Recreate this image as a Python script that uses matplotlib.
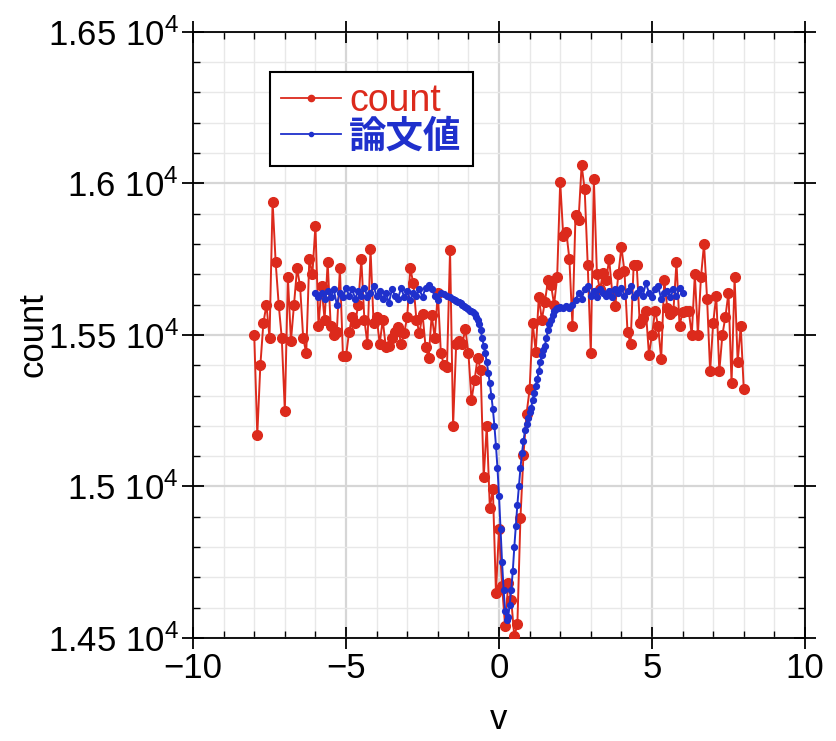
import numpy as np
import matplotlib
matplotlib.use("Agg")
import matplotlib.pyplot as plt
from matplotlib.ticker import MultipleLocator, FuncFormatter
from matplotlib.lines import Line2D

plt.rcParams["font.family"] = ["Liberation Sans", "Noto Sans CJK JP", "DejaVu Sans"]
plt.rcParams["mathtext.fontset"] = "custom"
plt.rcParams["mathtext.rm"] = "Liberation Sans"
plt.rcParams["mathtext.it"] = "Liberation Sans"

RED = "#dc2a1c"
BLUE = "#1f30cc"

# measured counts, v = -8.0 ... 8.0 step 0.1
count_v = np.arange(-80, 81) / 10
count_vals = [
    15500, 15170, 15400, 15540, 15600, 15490, 15940, 15740, 15600, 15490,
    15250, 15690, 15480, 15600, 15720, 15660, 15490, 15440, 15750, 15700,
    15860, 15530, 15660, 15550, 15740, 15530, 15500, 15510, 15720, 15430,
    15430, 15510, 15560, 15540, 15600, 15750, 15550, 15470, 15785, 15540,
    15560, 15470, 15550, 15460, 15465, 15490, 15510, 15525, 15470, 15505,
    15560, 15720, 15670, 15550, 15505, 15570, 15460, 15425, 15565, 15490,
    15640, 15440, 15400, 15395, 15780, 15200, 15470, 15480, 15470, 15520,
    15440, 15285, 15350, 15425, 15385, 15030, 15200, 14930, 14990, 14650,
    14860, 14670, 14540, 14680, 14625, 14505, 14545, 14895, 15105, 15240,
    15320, 15540, 15445, 15625, 15550, 15610, 15680, 15665, 15600, 15690,
    16005, 15825, 15840, 15750, 15530, 15895, 15880, 16060, 15980, 15730,
    15440, 16015, 15700, 15650, 15705, 15680, 15750, 15640, 15595, 15700,
    15790, 15710, 15510, 15470, 15730, 15730, 15540, 15555, 15580, 15435,
    15500, 15580, 15530, 15420, 15680, 15590, 15570, 15580, 15740, 15530,
    15575, 15580, 15580, 15500, 15700, 15500, 15690, 15800, 15620, 15380,
    15540, 15630, 15380, 15500, 15560, 15640, 15340, 15690, 15410, 15530,
    15320,
]

# paper values (論文値): coarse outside the dip, fine inside
paper_v = np.concatenate([np.arange(-60, -15) / 10,
                          np.arange(-30, 41) / 20,
                          np.arange(21, 61) / 10])
paper_vals = [
    # -6.0 ... -1.6
    15640, 15625, 15640, 15620, 15645, 15625, 15650, 15600, 15640, 15625,
    15655, 15630, 15650, 15620, 15645, 15630, 15655, 15625, 15640, 15660,
    15630, 15645, 15620, 15640, 15605, 15650, 15630, 15620, 15655, 15625,
    15645, 15615, 15640, 15630, 15650, 15625, 15655, 15665, 15650, 15630,
    15615, 15640, 15635, 15630, 15625,
    # -1.5 ... 2.0 (step 0.05)
    15620, 15615, 15612, 15610, 15608, 15605, 15600, 15595, 15592, 15588,
    15585, 15580, 15578, 15575, 15570, 15560, 15548, 15535, 15515, 15490,
    15465, 15440, 15410, 15375, 15340, 15300, 15255, 15200, 15135, 15060,
    14970, 14860, 14750, 14660, 14590, 14560, 14570, 14610, 14660, 14720,
    14800, 14870, 14940, 15000, 15060, 15110, 15150, 15185, 15205, 15225,
    15245, 15260, 15285, 15310, 15330, 15355, 15380, 15410, 15435, 15450,
    15465, 15490, 15515, 15535, 15550, 15565, 15578, 15585, 15590, 15590,
    15592,
    # 2.1 ... 6.0
    15590, 15595, 15588, 15600, 15615, 15640, 15620, 15650, 15660, 15630,
    15645, 15625, 15650, 15640, 15630, 15645, 15625, 15650, 15640, 15655,
    15630, 15645, 15660, 15625, 15640, 15650, 15630, 15670, 15640, 15625,
    15650, 15660, 15620, 15640, 15645, 15625, 15650, 15630, 15655, 15640,
]

fig = plt.figure(figsize=(8.36, 7.41), dpi=100)
ax = fig.add_axes([0.2309, 0.139, 0.732, 0.818])

ax.plot(count_v, count_vals, "-o", color=RED, lw=1.4, ms=7, mec=RED, zorder=3)
ax.plot(paper_v, paper_vals, "-o", color=BLUE, lw=1.4, ms=4.2, mec=BLUE, zorder=4)

ax.set_xlim(-10, 10)
ax.set_ylim(14500, 16500)
ax.xaxis.set_major_locator(MultipleLocator(5))
ax.xaxis.set_minor_locator(MultipleLocator(1))
ax.yaxis.set_major_locator(MultipleLocator(500))
ax.yaxis.set_minor_locator(MultipleLocator(100))
ax.yaxis.set_major_formatter(FuncFormatter(lambda y, p: f"{y / 1e4:g} $10^4$"))

ax.grid(which="major", color="#d6d6d6", lw=1.6, zorder=0)
ax.grid(which="minor", color="#e8e8e8", lw=1.0, zorder=0)
ax.set_axisbelow(True)

ax.tick_params(which="major", direction="inout", length=16, width=1.3,
               top=True, right=True, labelsize=25, pad=2)
ax.tick_params(which="minor", direction="in", length=5, width=1.0,
               top=True, right=True)
for s in ax.spines.values():
    s.set_linewidth(1.3)

ax.set_xlabel("v", fontsize=25)
ax.set_ylabel("count", fontsize=25)
ax.xaxis.set_label_coords(0.5, -0.108)
ax.yaxis.set_label_coords(-0.235, 0.5)

handles = [
    Line2D([0], [0], color=RED, lw=1.3, marker="o", ms=4.5, label="count"),
    Line2D([0], [0], color=BLUE, lw=1.3, marker="o", ms=3, label="論文値"),
]
leg = ax.legend(handles=handles, loc="upper left", bbox_to_anchor=(0.126, 0.934),
                borderaxespad=0, fontsize=27, frameon=True, fancybox=False,
                edgecolor="black", framealpha=1, handlelength=1.6,
                handletextpad=0.2, labelspacing=0.0, borderpad=0.3)
leg.get_frame().set_linewidth(1.5)
for txt, col in zip(leg.get_texts(), [RED, BLUE]):
    txt.set_color(col)
leg.get_texts()[1].set_fontweight("bold")

fig.savefig("out.png", dpi=100, facecolor="white")
